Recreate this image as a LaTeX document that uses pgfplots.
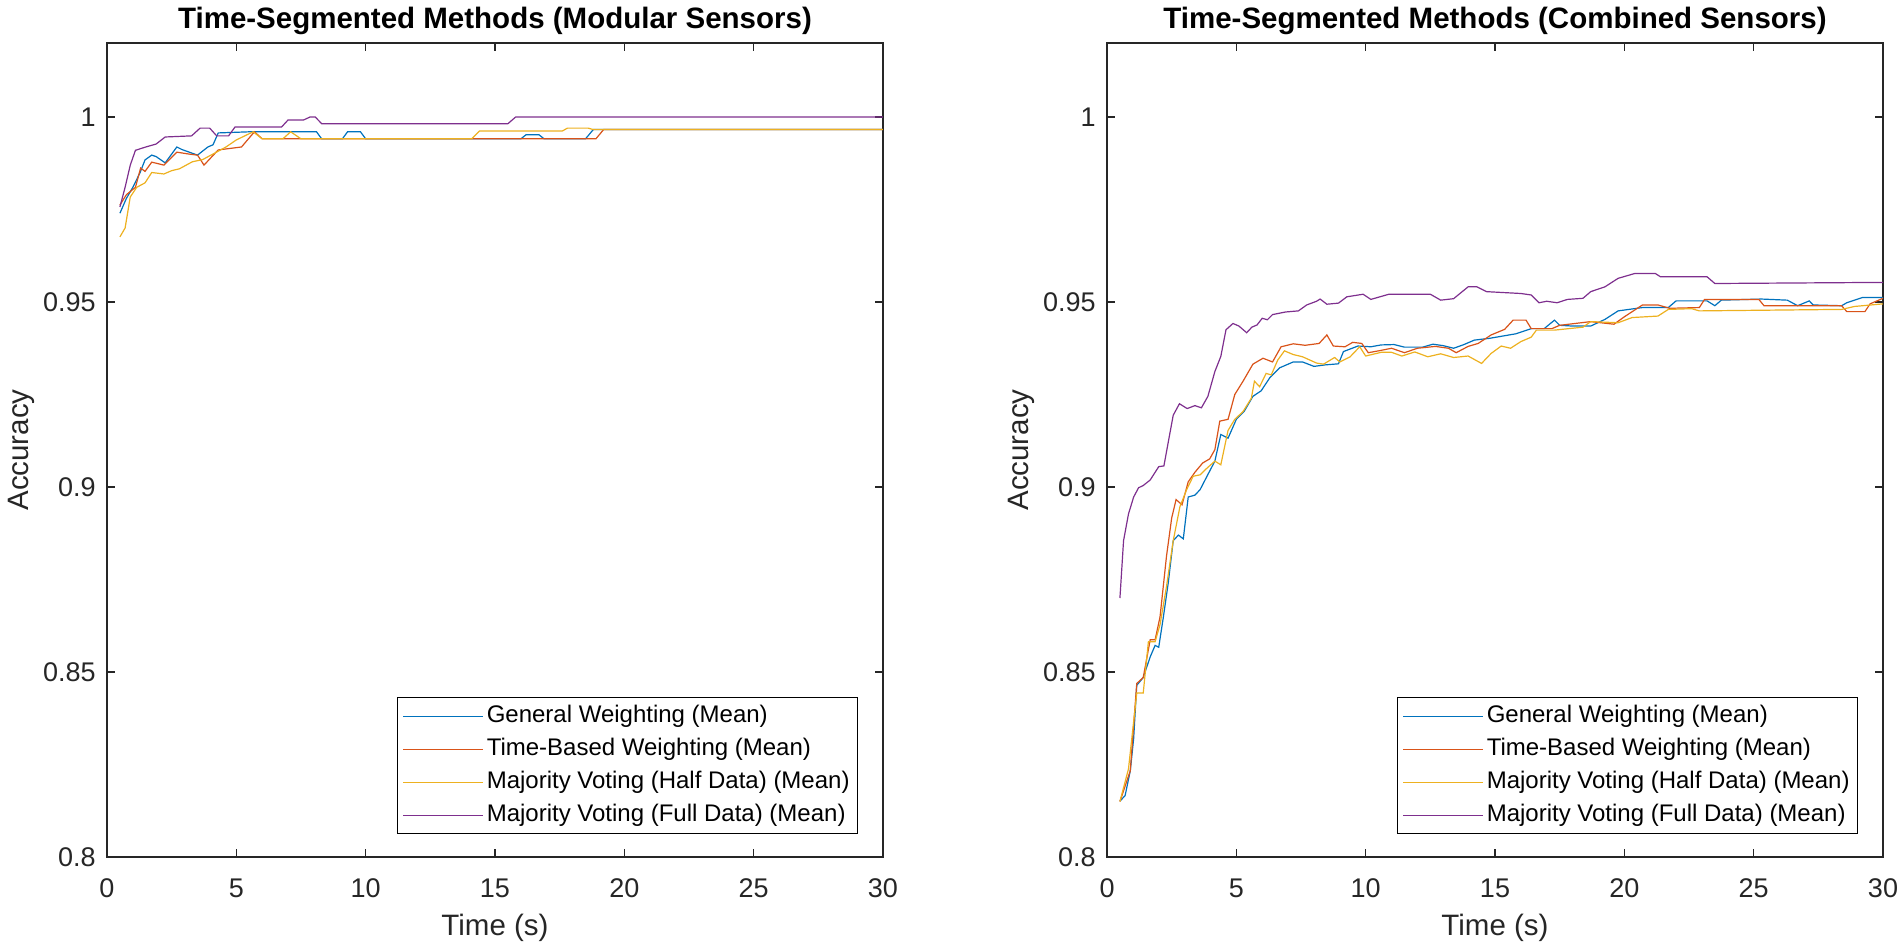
\documentclass[border=0pt]{standalone}
\usepackage{fontspec}
\setmainfont{Liberation Sans}
\usepackage{pgfplots}
\pgfplotsset{compat=1.18}
\definecolor{mblue}{rgb}{0,0.447,0.741}
\definecolor{morange}{rgb}{0.85,0.325,0.098}
\definecolor{myellow}{rgb}{0.929,0.694,0.125}
\definecolor{mpurple}{rgb}{0.494,0.184,0.556}
\definecolor{axgray}{rgb}{0.15,0.15,0.15}
\pgfplotsset{
  mstyle/.style={
    scale only axis, width=388pt, height=407pt,
    xmin=0, xmax=30, ymin=0.8, ymax=1.02,
    xtick={0,5,10,15,20,25,30}, xticklabels={0,5,10,15,20,25,30},
    ytick={0.8,0.85,0.9,0.95,1}, yticklabels={0.8,0.85,0.9,0.95,1},
    tick align=inside, tick pos=both, major tick length=4pt,
    axis line style={draw=axgray, line width=0.7pt},
    major tick style={draw=axgray, line width=0.7pt},
    tick label style={font=\fontsize{13.5}{16}\selectfont, text=axgray},
    xticklabel style={anchor=base, yshift=-20pt, inner sep=0pt},
    yticklabel style={anchor=east, inner sep=0pt, xshift=-5.5pt},
    xlabel={Time (s)}, ylabel={Accuracy},
    label style={font=\fontsize{14.75}{17}\selectfont, text=axgray},
    xlabel style={at={(axis description cs:0.5,-0.0964)}, anchor=base, inner sep=0pt},
    ylabel style={at={(axis description cs:-0.1012,0.5)}, anchor=base, inner sep=0pt},
    every axis title shift=0pt,
    title style={at={(axis description cs:0.5,1.0178)}, anchor=base, inner sep=0pt, font=\bfseries\fontsize{14.75}{17}\selectfont},
    legend cell align=left,
    legend image code/.code={\draw[#1] (0pt,0pt) -- (40pt,0pt);},
    legend style={at={(0.968,0.028)}, anchor=south east, draw=black, line width=0.6pt, fill=white,
      font=\fontsize{12}{14}\selectfont, inner xsep=2.5pt, inner ysep=1pt, row sep=0pt, column sep=0pt,
      nodes={inner xsep=1.5pt, inner ysep=2.25pt, text height=9pt, text depth=3pt}},
    every axis plot/.append style={line width=0.6pt},
  }
}
\begin{document}
\begin{tikzpicture}
\begin{axis}[mstyle, title={Time-Segmented Methods (Modular Sensors)}]
\addplot[color=mblue] coordinates {(0.5,0.974) (0.75,0.978) (1.0,0.981) (1.28,0.985) (1.47,0.9884) (1.73,0.9897) (1.9,0.9893) (2.25,0.9876) (2.7,0.9919) (2.9,0.9912) (3.5,0.9897) (3.9,0.9919) (4.1,0.9925) (4.3,0.9957) (5.5,0.996) (8.1,0.996) (8.3,0.9941) (9.1,0.9941) (9.3,0.996) (9.8,0.996) (10.0,0.9941) (16.0,0.9941) (16.2,0.9952) (16.7,0.9952) (16.9,0.9941) (18.5,0.9941) (18.8,0.9966) (30,0.9966)};
\addlegendentry{General Weighting (Mean)}
\addplot[color=morange] coordinates {(0.5,0.9762) (0.75,0.979) (1.1,0.981) (1.3,0.9862) (1.47,0.9853) (1.73,0.9878) (2.2,0.987) (2.7,0.9905) (3.15,0.99) (3.5,0.9897) (3.75,0.987) (4.3,0.9911) (5.2,0.9919) (5.7,0.996) (6.0,0.9941) (18.9,0.9941) (19.2,0.9966) (30,0.9966)};
\addlegendentry{Time-Based Weighting (Mean)}
\addplot[color=myellow] coordinates {(0.5,0.9676) (0.7,0.970) (0.9,0.9784) (1.15,0.981) (1.47,0.9822) (1.73,0.985) (2.2,0.9846) (2.5,0.9855) (2.8,0.986) (3.3,0.9879) (3.7,0.9885) (4.1,0.99) (4.6,0.9919) (5.0,0.9938) (5.65,0.996) (6.0,0.9941) (6.8,0.9941) (7.1,0.996) (7.5,0.9941) (14.1,0.9941) (14.4,0.9962) (17.6,0.9962) (17.8,0.997) (18.6,0.997) (18.8,0.9966) (30,0.9966)};
\addlegendentry{Majority Voting (Half Data) (Mean)}
\addplot[color=mpurple] coordinates {(0.5,0.9757) (0.7,0.981) (0.9,0.987) (1.1,0.991) (1.5,0.9919) (1.9,0.9927) (2.25,0.9946) (3.27,0.9949) (3.6,0.997) (3.97,0.997) (4.24,0.9949) (4.7,0.9949) (4.95,0.9973) (6.75,0.9973) (7.0,0.9992) (7.6,0.9992) (7.85,1.0) (8.05,1.0) (8.3,0.9982) (15.5,0.9982) (15.8,1.0) (30,1.0)};
\addlegendentry{Majority Voting (Full Data) (Mean)}
\end{axis}
\begin{axis}[mstyle, at={(500pt,0pt)}, anchor=south west, title={Time-Segmented Methods (Combined Sensors)}]
\addplot[color=mblue] coordinates {(0.5,0.8151) (0.7,0.8166) (0.9,0.8233) (1.03,0.832) (1.15,0.8464) (1.4,0.8485) (1.67,0.8541) (1.86,0.8572) (2.0,0.8567) (2.18,0.8649) (2.37,0.8742) (2.56,0.8855) (2.76,0.887) (2.95,0.886) (3.14,0.8973) (3.4,0.8978) (3.6,0.8993) (3.85,0.9027) (4.17,0.907) (4.4,0.9142) (4.68,0.9132) (5.0,0.9183) (5.3,0.9204) (5.64,0.9245) (5.96,0.926) (6.3,0.9296) (6.67,0.9322) (7.2,0.9338) (7.56,0.9338) (8.0,0.9326) (8.43,0.933) (8.95,0.9333) (9.14,0.9366) (9.7,0.9381) (10.2,0.9379) (10.6,0.9384) (11.1,0.9385) (11.5,0.9378) (12.2,0.9378) (12.6,0.9386) (13.0,0.9382) (13.4,0.9375) (13.8,0.9385) (14.2,0.9397) (14.8,0.9402) (15.3,0.9408) (15.8,0.9414) (16.4,0.9428) (16.9,0.9428) (17.3,0.9451) (17.5,0.9437) (18.0,0.9435) (18.7,0.9435) (19.25,0.9453) (19.76,0.9476) (20.7,0.9485) (21.7,0.9485) (22.0,0.9503) (23.2,0.9503) (23.5,0.949) (23.75,0.9505) (25.3,0.9508) (26.3,0.9505) (26.7,0.949) (27.15,0.9503) (27.3,0.9492) (28.4,0.949) (28.6,0.9498) (29.2,0.9512) (30,0.9512)};
\addlegendentry{General Weighting (Mean)}
\addplot[color=morange] coordinates {(0.5,0.815) (0.9,0.8233) (1.15,0.8469) (1.4,0.8485) (1.67,0.8587) (1.86,0.8587) (2.05,0.8649) (2.3,0.8813) (2.5,0.8916) (2.67,0.8966) (2.9,0.8952) (3.14,0.9014) (3.4,0.904) (3.7,0.9065) (3.97,0.9076) (4.17,0.9101) (4.36,0.9178) (4.68,0.9183) (4.94,0.925) (5.26,0.9286) (5.64,0.9332) (6.03,0.9348) (6.4,0.9338) (6.73,0.9379) (7.2,0.9387) (7.66,0.9383) (8.2,0.9388) (8.5,0.9411) (8.75,0.9381) (9.2,0.9379) (9.5,0.9391) (9.85,0.9388) (10.1,0.9363) (10.5,0.9368) (11.0,0.9375) (11.5,0.9363) (12.0,0.9375) (12.7,0.938) (13.2,0.9375) (13.5,0.9363) (13.96,0.938) (14.35,0.9388) (14.85,0.9411) (15.37,0.9426) (15.7,0.9451) (16.2,0.9451) (16.4,0.9428) (17.2,0.9428) (17.5,0.9437) (18.7,0.9447) (19.6,0.944) (20.0,0.946) (20.7,0.9492) (21.3,0.9492) (21.75,0.9483) (22.9,0.9485) (23.1,0.9507) (25.2,0.9507) (25.4,0.949) (28.4,0.949) (28.6,0.9474) (29.3,0.9474) (29.5,0.9495) (30,0.951)};
\addlegendentry{Time-Based Weighting (Mean)}
\addplot[color=myellow] coordinates {(0.5,0.815) (0.83,0.8238) (1.15,0.8443) (1.4,0.8443) (1.6,0.8582) (1.86,0.8582) (2.05,0.8628) (2.3,0.8731) (2.56,0.8855) (2.82,0.8947) (3.08,0.8993) (3.33,0.9029) (3.6,0.9033) (3.85,0.905) (4.17,0.907) (4.4,0.906) (4.68,0.9153) (4.94,0.9183) (5.26,0.9204) (5.58,0.924) (5.7,0.9286) (5.9,0.9271) (6.15,0.9307) (6.35,0.9303) (6.6,0.9343) (6.86,0.9368) (7.2,0.9358) (7.56,0.9352) (8.1,0.9335) (8.37,0.9332) (8.8,0.935) (9.0,0.9338) (9.4,0.9352) (9.77,0.9379) (10.0,0.9354) (10.6,0.9364) (11.0,0.9364) (11.4,0.9354) (11.9,0.9365) (12.4,0.9352) (12.9,0.936) (13.4,0.935) (13.96,0.9354) (14.48,0.9334) (14.85,0.9361) (15.24,0.9381) (15.6,0.9375) (16.0,0.9393) (16.4,0.9405) (16.6,0.9424) (17.3,0.9424) (18.4,0.9432) (18.7,0.9447) (19.76,0.9444) (20.3,0.9458) (21.3,0.9462) (21.7,0.948) (22.6,0.9482) (22.9,0.9476) (28.4,0.948) (28.9,0.9488) (30,0.9495)};
\addlegendentry{Majority Voting (Half Data) (Mean)}
\addplot[color=mpurple] coordinates {(0.5,0.870) (0.64,0.8855) (0.83,0.8927) (1.03,0.8973) (1.22,0.8998) (1.4,0.9004) (1.67,0.9019) (2.0,0.9055) (2.2,0.9057) (2.37,0.9122) (2.56,0.9194) (2.8,0.9225) (3.1,0.9212) (3.4,0.922) (3.65,0.9214) (3.9,0.9245) (4.17,0.9312) (4.4,0.9353) (4.6,0.9425) (4.87,0.9442) (5.1,0.9435) (5.4,0.9417) (5.6,0.9432) (5.8,0.9438) (6.0,0.9456) (6.2,0.9452) (6.4,0.9466) (6.9,0.9473) (7.4,0.9476) (7.72,0.9492) (8.1,0.9502) (8.24,0.9508) (8.5,0.9494) (8.95,0.9497) (9.27,0.9514) (9.9,0.9521) (10.2,0.9507) (10.9,0.9521) (12.5,0.9521) (12.9,0.9505) (13.4,0.9509) (13.96,0.9541) (14.3,0.9541) (14.67,0.9528) (16.0,0.9523) (16.4,0.9519) (16.7,0.9498) (17.0,0.9502) (17.4,0.9498) (17.8,0.9507) (18.4,0.951) (18.7,0.9528) (19.25,0.9541) (19.76,0.9564) (20.4,0.9577) (21.2,0.9577) (21.4,0.9568) (23.2,0.9568) (23.5,0.955) (30,0.9553)};
\addlegendentry{Majority Voting (Full Data) (Mean)}
\end{axis}
\pgfresetboundingbox
\path[use as bounding box] (-53.5pt,-46.5pt) rectangle (897.5pt,428.5pt);
\end{tikzpicture}
\end{document}
